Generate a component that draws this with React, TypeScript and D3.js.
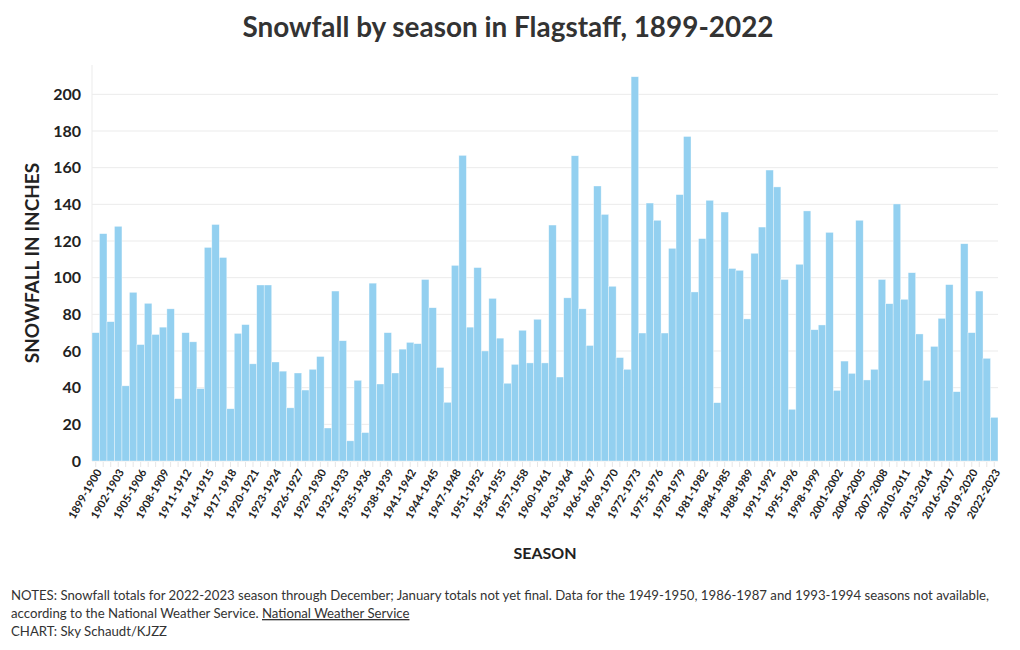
import React from "react";
import { scaleBand, scaleLinear } from "d3";

// Seasons 1899-1900 .. 2022-2023; 1949-50, 1986-87, 1993-94 have no data
const missing = [1949, 1986, 1993];
const seasons: string[] = [];
for (let y = 1899; y <= 2022; y++) {
  if (!missing.includes(y)) seasons.push(`${y}-${y + 1}`);
}

const snowfall = [
  70, 124, 76, 128, 41, 92, 63.5, 86, 69, 73, 83, 34, 70, 65, 39.5, 116.5, 129, 111, 28.5, 69.6,
  74.4, 53, 96, 96, 54, 49, 29, 48, 38.7, 50, 57, 18, 92.7, 65.6, 11, 44, 15.5, 97, 42, 70,
  48, 61, 64.7, 64, 99, 83.6, 51, 32, 106.7, 166.7, 73, 105.5, 60, 88.7, 67, 42.4, 52.7, 71.3, 53.5, 77.3,
  53.5, 128.7, 45.8, 89, 166.5, 83, 63, 150, 134.5, 95.3, 56.4, 50, 209.6, 69.8, 140.7, 131.3, 69.8, 116, 145.3, 177,
  92.2, 121.3, 142.2, 31.8, 135.8, 105, 104, 77.5, 113.3, 127.6, 158.7, 149.5, 99, 28.2, 107.3, 136.4, 71.6, 74.2, 124.7, 38.5,
  54.5, 47.8, 131.3, 44.2, 50, 99, 85.8, 140.2, 88.2, 102.7, 69.3, 44, 62.5, 77.8, 96.2, 37.8, 118.5, 70, 92.7, 56,
  23.8,
];

const yTicks = [0, 20, 40, 60, 80, 100, 120, 140, 160, 180, 200];

const W = 1020;
const H = 650;
const margin = { top: 65, right: 22, bottom: 189, left: 92 };
const font = "Lato, 'Open Sans', sans-serif";
const ink = "#333";

export default function App() {
  const x = scaleBand<string>()
    .domain(seasons)
    .range([margin.left, W - margin.right])
    .padding(0);
  const y = scaleLinear()
    .domain([0, 216])
    .range([H - margin.bottom, margin.top]);
  const base = y(0);
  const bw = x.bandwidth();

  return (
    <svg
      width={W}
      height={H}
      style={{ position: "absolute", left: 0, top: 0, background: "#fff" }}
      fontFamily={font}
    >
      <text x={508} y={37} textAnchor="middle" fontSize={27.9} fontWeight={700} fill={ink}>
        Snowfall by season in Flagstaff, 1899-2022
      </text>

      {/* grid */}
      {yTicks.map((t) => (
        <g key={t}>
          <line x1={margin.left} x2={W - margin.right} y1={y(t)} y2={y(t)} stroke="#ebebeb" />
          <text
            x={81}
            y={y(t)}
            dy="0.35em"
            textAnchor="end"
            fontSize={16}
            fontWeight={700}
            fill="#222"
          >
            {t}
          </text>
        </g>
      ))}
      <line x1={margin.left} x2={margin.left} y1={margin.top} y2={base} stroke="#ebebeb" />

      {/* bars */}
      {seasons.map((s, i) => (
        <rect
          key={s}
          x={x(s)}
          y={y(snowfall[i])}
          width={bw}
          height={base - y(snowfall[i])}
          fill="#93d0f0"
          stroke="#ffffff"
          strokeOpacity={0.6}
          strokeWidth={0.6}
        />
      ))}

      {/* x ticks */}
      {seasons.map((s) => (
        <line
          key={"t" + s}
          x1={x(s)! + bw / 2}
          x2={x(s)! + bw / 2}
          y1={base + 1}
          y2={base + 6}
          stroke="#e6e6e6"
        />
      ))}
      {seasons.map((s, i) =>
        i % 3 === 0 ? (
          <text
            key={"l" + s}
            transform={`translate(${x(s)! + bw / 2 + 3},${base + 9}) rotate(-60)`}
            textAnchor="end"
            dy="0.35em"
            fontSize={11}
            fontWeight={700}
            fill="#222"
          >
            {s}
          </text>
        ) : null
      )}

      <text x={545} y={559} textAnchor="middle" fontSize={16} fontWeight={700} fill="#222">
        SEASON
      </text>
      <text
        transform={`translate(39,${(margin.top + base) / 2}) rotate(-90)`}
        textAnchor="middle"
        fontSize={19}
        fontWeight={700}
        fill="#222"
      >
        SNOWFALL IN INCHES
      </text>

      {/* notes */}
      <g fontSize={13.2} fill={ink}>
        <text x={11} y={600}>
          NOTES: Snowfall totals for 2022-2023 season through December; January totals not yet final. Data for the
          1949-1950, 1986-1987 and 1993-1994 seasons not available,
        </text>
        <text x={11} y={618}>
          according to the National Weather Service.{" "}
          <tspan textDecoration="underline" style={{ textDecoration: "underline" }}>
            National Weather Service
          </tspan>
        </text>
        <text x={11} y={636}>
          CHART: Sky Schaudt/KJZZ
        </text>
      </g>
    </svg>
  );
}
